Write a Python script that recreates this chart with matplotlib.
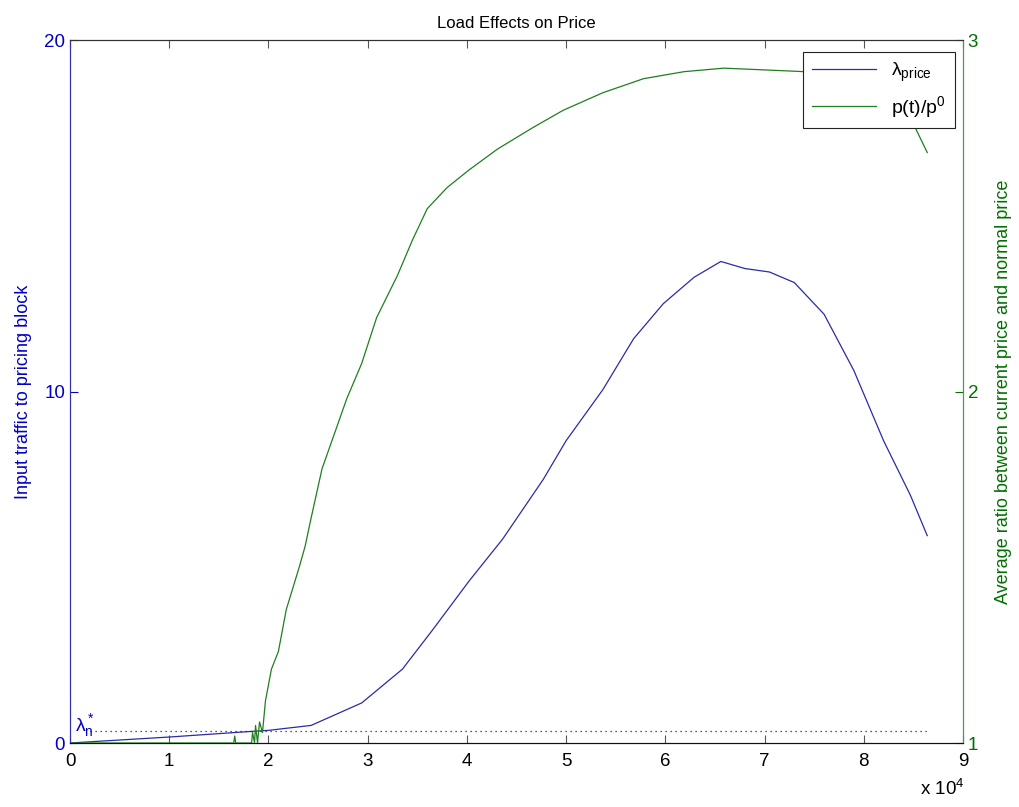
import numpy as np
import matplotlib
matplotlib.use("Agg")
import matplotlib.pyplot as plt

plt.rcParams['font.family'] = ['Liberation Sans', 'DejaVu Sans']
plt.rcParams['mathtext.default'] = 'regular'

# time in seconds (one day)
t_lam = [0, 10000, 18800, 20000, 24300, 29400, 33500, 36500, 40200, 43600, 47700,
         50000, 53700, 56800, 59800, 62900, 65600, 68000, 70500, 73000, 76000,
         79000, 82000, 84700, 86400]
lam_price = [0.0, 0.17, 0.34, 0.36, 0.5, 1.14, 2.1, 3.2, 4.6, 5.8, 7.5,
             8.6, 10.05, 11.5, 12.5, 13.25, 13.7, 13.5, 13.4, 13.1, 12.2,
             10.6, 8.6, 7.05, 5.9]

t_p = [0, 16500, 16600, 16700, 16800, 18300, 18400, 18600, 18700, 18900, 19100,
       19400, 19700, 20300, 21000, 21800, 23100, 23400, 23700, 24300, 25400,
       26400, 27900, 29400, 30900, 33000, 34500, 36000, 38000, 40200, 43100,
       46600, 49700, 53700, 57800, 61900, 65900, 70000, 74000, 78000, 82000,
       85200, 86400]
p_ratio = [1.0, 1.0, 1.02, 1.0, 1.0, 1.0, 1.03, 1.0, 1.05, 1.0, 1.06,
           1.03, 1.12, 1.21, 1.26, 1.38, 1.50, 1.53, 1.56, 1.64, 1.78,
           1.86, 1.98, 2.08, 2.21, 2.33, 2.43, 2.52, 2.58, 2.63, 2.69,
           2.75, 2.80, 2.85, 2.89, 2.91, 2.92, 2.915, 2.91, 2.89, 2.83,
           2.75, 2.68]

lam_star = 0.34
xticks = [0, 1, 2, 3, 4, 5, 6, 7, 8, 9]

blue = '#2b2ba6'
green = '#1f7f1f'
blue_txt = '#0000c8'
green_txt = '#007000'

fig = plt.figure(figsize=(10.19, 8.07), dpi=100)
ax = fig.add_axes([0.0687, 0.0793, 0.8763, 0.8711])
ax2 = ax.twinx()

l1, = ax.plot(t_lam, lam_price, color=blue, lw=0.9)
ax.plot([2000, 86500], [lam_star, lam_star], color='#222244', ls=(0, (1, 3)), lw=0.9)
ax.text(500, 0.1, r'$\lambda_n^*$', color=blue_txt, fontsize=14, va='bottom')
l2, = ax2.plot(t_p, p_ratio, color=green, lw=0.9)

ax.set_xlim(0, 90000)
ax.set_ylim(0, 20)
ax2.set_ylim(1, 3)
ax.set_xticks([v * 10000 for v in xticks])
ax.set_xticklabels([str(v) for v in xticks])
ax.set_yticks([0, 10, 20])
ax2.set_yticks([1, 2, 3])

ax.tick_params(axis='x', direction='in', top=True, length=6, color='#555555',
               labelsize=13.5, pad=7)
ax.tick_params(axis='y', direction='in', length=6, colors=blue_txt, labelsize=13.5)
ax2.tick_params(axis='y', direction='in', length=6, colors=green_txt, labelsize=13.5)

for a in (ax, ax2):
    a.spines['top'].set_color('#333333')
    a.spines['bottom'].set_color('#111111')
ax.spines['left'].set_color('#3030b0')
ax2.spines['left'].set_color('#3030b0')
ax.spines['right'].set_color('#4a9a4a')
ax2.spines['right'].set_color('#4a9a4a')

ax.set_title('Load Effects on Price', fontsize=12, pad=9)
ax.set_ylabel('Input traffic to pricing block', color=blue_txt, fontsize=13, labelpad=9)
ax2.set_ylabel('Average ratio between current price and normal price', color=green_txt,
               fontsize=13, labelpad=12)
fig.text(0.925, 0.010, r'x 10$^4$', fontsize=13.5, ha='center', va='bottom')

leg = ax2.legend([l1, l2], [r'$\lambda_{price}$', r'p(t)/p$^0$'], loc='upper right',
                 fontsize=14, fancybox=False, edgecolor='#222222', framealpha=1,
                 borderaxespad=0.0, handlelength=3.3, borderpad=0.45,
                 bbox_to_anchor=(0.991, 0.983))
leg.get_frame().set_linewidth(0.8)

fig.savefig('out.png', dpi=100)
